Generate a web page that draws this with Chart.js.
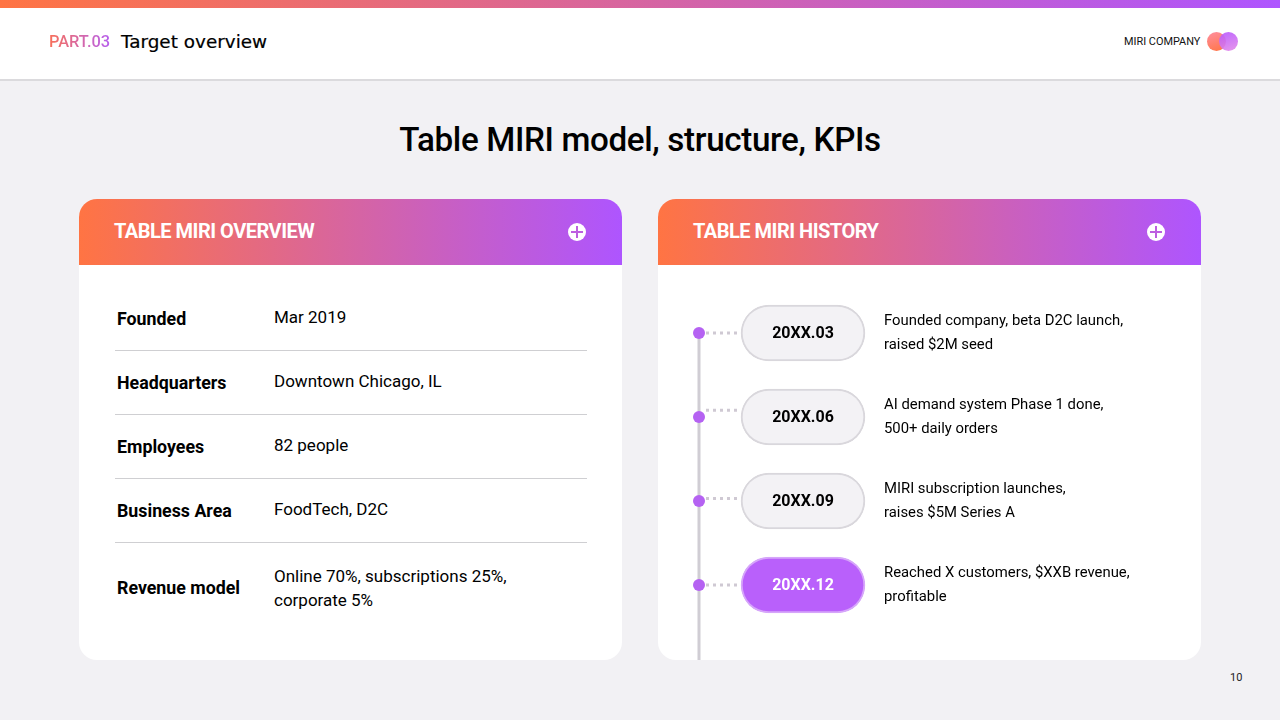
<!DOCTYPE html>
<html>
<head>
<meta charset="utf-8">
<script src="https://cdn.jsdelivr.net/npm/chart.js@4"></script>
<style>
* { box-sizing: border-box; margin: 0; padding: 0; }
body { width: 1280px; height: 720px; overflow: hidden; background: #f2f1f4; font-family: Roboto, sans-serif; color: #000; position: relative; }
.topbar { position: absolute; left: 0; top: 0; width: 1280px; height: 8px; background: linear-gradient(90deg, #ff7443, #ae55ff); }
.head { position: absolute; left: 0; top: 8px; width: 1280px; height: 73px; background: #fff; border-bottom: 2px solid #dbdadd; }
.part { position: absolute; left: 49px; top: 33px; font-size: 16.4px; font-weight: 500; line-height: 18px; background: linear-gradient(90deg, #f8705a, #b65fee); -webkit-background-clip: text; background-clip: text; color: transparent; }
.sub { position: absolute; left: 121px; top: 32px; font-family: "DejaVu Sans"; font-size: 18.4px; line-height: 20px; -webkit-text-stroke: 0.2px #000; }
.company { position: absolute; left: 1124px; top: 35px; font-size: 10.9px; line-height: 13px; color: #111; }
.dot { position: absolute; top: 32px; width: 19px; height: 19px; border-radius: 50%; }
.dot.a { left: 1207px; background: linear-gradient(160deg, #ff8fa0, #ff7443); }
.dot.b { left: 1219px; background: linear-gradient(160deg, #b655ff, #e58be8); opacity: .9; }
h1 { position: absolute; left: 0; top: 120px; width: 1280px; text-align: center; font-size: 33.2px; line-height: 40px; font-weight: 500; letter-spacing: -0.35px; }
.card { position: absolute; top: 199px; width: 543px; height: 461px; background: #fff; border-radius: 18px; overflow: hidden; }
.card.left { left: 79px; }
.card.right { left: 658px; }
.bar { height: 66px; background: linear-gradient(90deg, #ff7443, #ae55ff); color: #fff; font-size: 20px; font-weight: 700; line-height: 65px; padding-left: 35px; letter-spacing: -0.5px; }
.plus { position: absolute; top: 24px; left: 489px; width: 18px; height: 18px; border-radius: 50%; background: #fff; }
.plus:before, .plus:after { content: ""; position: absolute; background: #bd5fe0; }
.plus:before { left: 3px; top: 7.75px; width: 12px; height: 2.5px; }
.plus:after { left: 7.75px; top: 3px; width: 2.5px; height: 12px; }
.row { position: absolute; left: 36px; width: 472px; border-bottom: 1px solid #cfcfd2; font-size: 17px; }
.row:last-child { border-bottom: 0; }
.row b { position: absolute; left: 2px; top: 50%; transform: translateY(-50%); font-weight: 700; font-size: 17.8px; white-space: nowrap; margin-top: -1px; }
.row span { position: absolute; left: 159px; top: 50%; transform: translateY(-50%); line-height: 24px; white-space: pre-line; margin-top: -2px; }
.row:last-child span { margin-top: 0; }
#timeline { position: absolute; left: 0; top: 66px; }
.desc { position: absolute; left: 226px; font-size: 14.85px; line-height: 24px; white-space: pre-line; transform: translateY(-50%); margin-top: -1px; }
.page { position: absolute; left: 1230px; top: 671px; font-size: 11px; line-height: 13px; color: #222; }
</style>
</head>
<body>
<div class="topbar"></div>
<div class="head"></div>
<div class="part">PART.03</div>
<div class="sub">Target overview</div>
<div class="company">MIRI COMPANY</div>
<div class="dot a"></div>
<div class="dot b"></div>
<h1>Table MIRI model, structure, KPIs</h1>

<div class="card left" id="overview">
  <div class="bar">TABLE MIRI OVERVIEW</div>
  <div class="plus"></div>
</div>
<div class="card right" id="history">
  <div class="bar">TABLE MIRI HISTORY</div>
  <div class="plus"></div>
  <canvas id="timeline" width="543" height="395"></canvas>
</div>
<div class="page">10</div>

<script>
// left table
const overviewKeys = ['Founded', 'Headquarters', 'Employees', 'Business Area', 'Revenue model'];
const overviewValues = ['Mar 2019', 'Downtown Chicago, IL', '82 people', 'FoodTech, D2C', 'Online 70%, subscriptions 25%,\ncorporate 5%'];
const overviewRowTops = [88, 152, 216, 280, 344];
const overviewRowHeights = [64, 64, 64, 64, 90];

// timeline, one row per milestone
const milestones = ['20XX.03', '20XX.06', '20XX.09', '20XX.12'];
const milestoneRows = [0, 1, 2, 3];
const milestoneNotes = [
    'Founded company, beta D2C launch,\nraised $2M seed',
    'AI demand system Phase 1 done,\n500+ daily orders',
    'MIRI subscription launches,\nraises $5M Series A',
    'Reached X customers, $XXB revenue,\nprofitable'
];
const connectorRows = [0, 0.92, 1.97, 3];
const pillStart = 42;
const pillEnd = 166;
const railEnd = 3.9;

overviewKeys.forEach((key, i) => {
    const row = document.createElement('div');
    row.className = 'row';
    row.style.top = overviewRowTops[i] + 'px';
    row.style.height = overviewRowHeights[i] + 'px';
    row.innerHTML = '<b>' + key + '</b><span>' + overviewValues[i] + '</span>';
    document.getElementById('overview').appendChild(row);
});

const pillText = {
    id: 'pillText',
    afterDatasetsDraw(chart) {
        const ctx = chart.ctx;
        const bars = chart.getDatasetMeta(chart.data.datasets.findIndex(d => d.type === 'bar')).data;
        ctx.save();
        ctx.font = '700 16px Roboto';
        ctx.textAlign = 'center';
        ctx.textBaseline = 'middle';
        bars.forEach((bar, i) => {
            ctx.fillStyle = i === 3 ? '#fff' : '#000';
            const c = bar.getCenterPoint();
            ctx.fillText(milestones[i], c.x, c.y + 1);
        });
        ctx.restore();
    }
};

const connectors = milestoneRows.map((row, i) => ({
    type: 'scatter',
    showLine: true,
    data: [{ x: 7, y: connectorRows[i] }, { x: pillStart - 1, y: connectorRows[i] }],
    borderColor: '#cfc9d3',
    borderWidth: 3,
    borderDash: [3, 4],
    pointRadius: 0
}));

const chart = new Chart(document.getElementById('timeline'), {
    type: 'bar',
    data: {
        datasets: [
            {
                type: 'scatter',
                data: milestoneRows.map(row => ({ x: 0, y: row })),
                backgroundColor: '#b562f2',
                borderWidth: 0,
                pointRadius: 6
            },
            ...connectors,
            {
                type: 'scatter',
                showLine: true,
                data: [{ x: 0, y: 0 }, { x: 0, y: railEnd }],
                borderColor: '#d0cdd4',
                borderWidth: 3,
                pointRadius: 0
            },
            {
                type: 'bar',
                indexAxis: 'y',
                data: milestoneRows.map(row => ({ x: [pillStart, pillEnd], y: row })),
                backgroundColor: ['#f3f2f5', '#f3f2f5', '#f3f2f5', '#b960fb'],
                borderColor: ['#d9d7dc', '#d9d7dc', '#d9d7dc', '#d6a6fa'],
                borderWidth: 2,
                borderSkipped: false,
                borderRadius: 28,
                barThickness: 56
            }
        ]
    },
    options: {
        responsive: false,
        animation: false,
        events: [],
        layout: { padding: 0, autoPadding: false },
        plugins: { legend: { display: false }, tooltip: { enabled: false } },
        scales: {
            x: { type: 'linear', display: false, min: -41, max: 502, offset: false },
            y: { type: 'linear', display: false, reverse: true, min: -0.81, max: 3.893, offset: false }
        }
    },
    plugins: [pillText]
});

milestoneNotes.forEach((note, i) => {
    const el = document.createElement('div');
    el.className = 'desc';
    el.style.top = (66 + chart.scales.y.getPixelForValue(milestoneRows[i])) + 'px';
    el.textContent = note;
    document.getElementById('history').appendChild(el);
});
</script>
</body>
</html>
